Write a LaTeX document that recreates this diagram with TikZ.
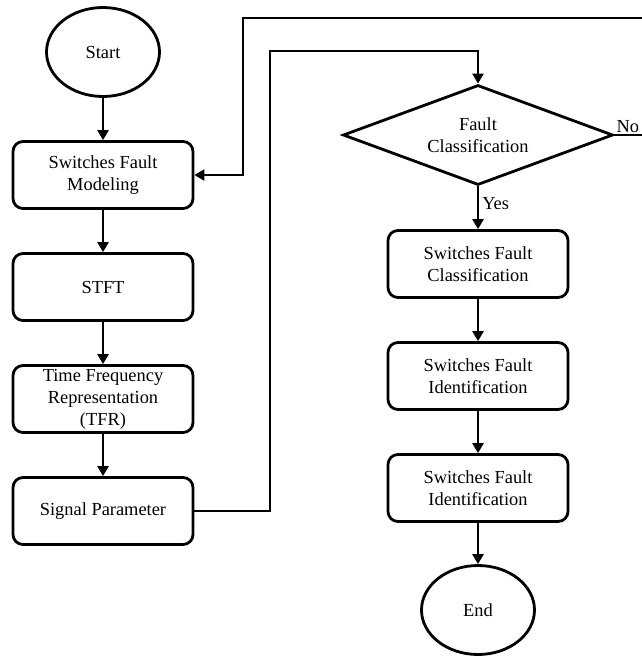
\documentclass[tikz,border=0pt]{standalone}
\usepackage{fontspec}
\setmainfont{Liberation Serif}
\usepackage{tikz}
\usetikzlibrary{shapes.geometric, arrows.meta, positioning}
\tikzstyle{startstop} = [ellipse, minimum width=113pt, minimum height=89pt, inner sep=0pt, text centered, draw=black, line width=2.8pt]
\tikzstyle{process} = [rectangle, rounded corners=10pt, minimum width=180pt, minimum height=67pt, inner sep=1pt, align=center, draw=black, line width=2.8pt]
\tikzstyle{decision} = [diamond, minimum width=270pt, minimum height=100pt, aspect=2.7, inner sep=0pt, align=center, draw=black, line width=2.8pt]
\tikzstyle{arrow} = [line width=2.6pt,->,>={Triangle[length=10pt,width=11pt]}]

\begin{document}
\begin{tikzpicture}[x=1pt, y=1pt, node distance=112pt, font=\fontsize{18.4}{22}\selectfont]
	\useasboundingbox (0,0) rectangle (641,-657);
	\node (start) [startstop] at (103,-52) {Start};
	\node (pro1) [process, below of=start, yshift=-11pt] {Switches Fault\\Modeling};
	\node (pro2) [process, below of=pro1] {STFT};
	\node (pro3) [process, below of=pro2] {Time Frequency\\Representation\\(TFR)};
	\node (pro4) [process, below of=pro3] {Signal Parameter};
	
	\node (dec1) [decision] at (478,-135) {Fault\\Classification};
	\node (pro5) [process, below of=dec1, yshift=-17pt] {Switches Fault\\Classification};
	\node (pro6) [process, below of=pro5] {Switches Fault\\Identification};
	\node (pro7) [process, below of=pro6] {Switches Fault\\Identification};
	\node (stop) [startstop, below of=pro7, yshift=-10pt] {End};
	
	\coordinate (up) at (270,-51);
	\coordinate (ret) at (652,-18);
	\coordinate (back) at (243,-18);
	
	\draw [arrow] (start) -- (pro1);
	\draw [arrow] (pro1) -- (pro2);
	\draw [arrow] (pro2) -- (pro3);
	\draw [arrow] (pro3) -- (pro4);
	\draw [arrow] (pro4) -| (up) -| (dec1);
	\draw [arrow] (dec1) -- node[right, pos=0.4, inner sep=3pt] {Yes} (pro5);
	\draw [arrow] (dec1.east) node[above right, inner sep=1pt] {No} -| (ret) -- (back) |- (pro1);
	\draw [arrow] (pro5) -- (pro6);
	\draw [arrow] (pro6) -- (pro7);
	\draw [arrow] (pro7) -- (stop);
\end{tikzpicture}
\end{document}
